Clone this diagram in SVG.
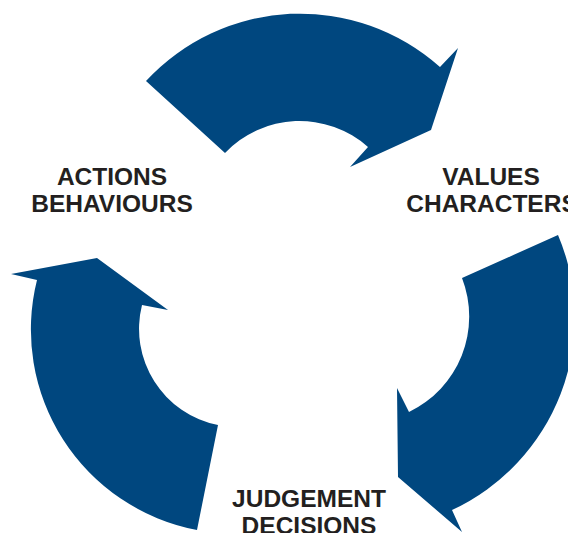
<svg xmlns="http://www.w3.org/2000/svg" width="568" height="533" viewBox="0 0 568 533">
  <style>
    .arrow { fill: #00477f; stroke: none; }
    .label { font-family: "Liberation Sans", Arial, sans-serif; font-weight: bold; font-size: 24.5px; fill: #231f20; text-anchor: middle; }
  </style>
  <rect width="568" height="533" fill="#ffffff"/>
  <g id="connectors">
    <path id="arrow-top" class="arrow" d="M 146,81 A 210 210 0 0 1 440,67 L 458,48 L 431,130 L 350,167 L 368,147 A 103 103 0 0 0 225,153 Z"/>
    <path id="arrow-right" class="arrow" d="M 462,278 L 558,235 A 212 212 0 0 1 452,510 L 462,532 L 398,477 L 397,388 L 409,412 A 106 106 0 0 0 462,278 Z"/>
    <path id="arrow-left" class="arrow" d="M 197,530 A 204 204 0 0 1 37,280 L 11,274 L 97,258 L 168,310 L 142,305 A 98 98 0 0 0 218,425 Z"/>
  </g>
  <g id="node-actions">
    <text class="label" x="112" y="185">ACTIONS</text>
    <text class="label" x="112" y="212">BEHAVIOURS</text>
  </g>
  <g id="node-values">
    <text class="label" x="491" y="185">VALUES</text>
    <text class="label" x="492" y="212">CHARACTERS</text>
  </g>
  <g id="node-judgement">
    <text class="label" x="309" y="507">JUDGEMENT</text>
    <text class="label" x="309" y="534">DECISIONS</text>
  </g>
</svg>
